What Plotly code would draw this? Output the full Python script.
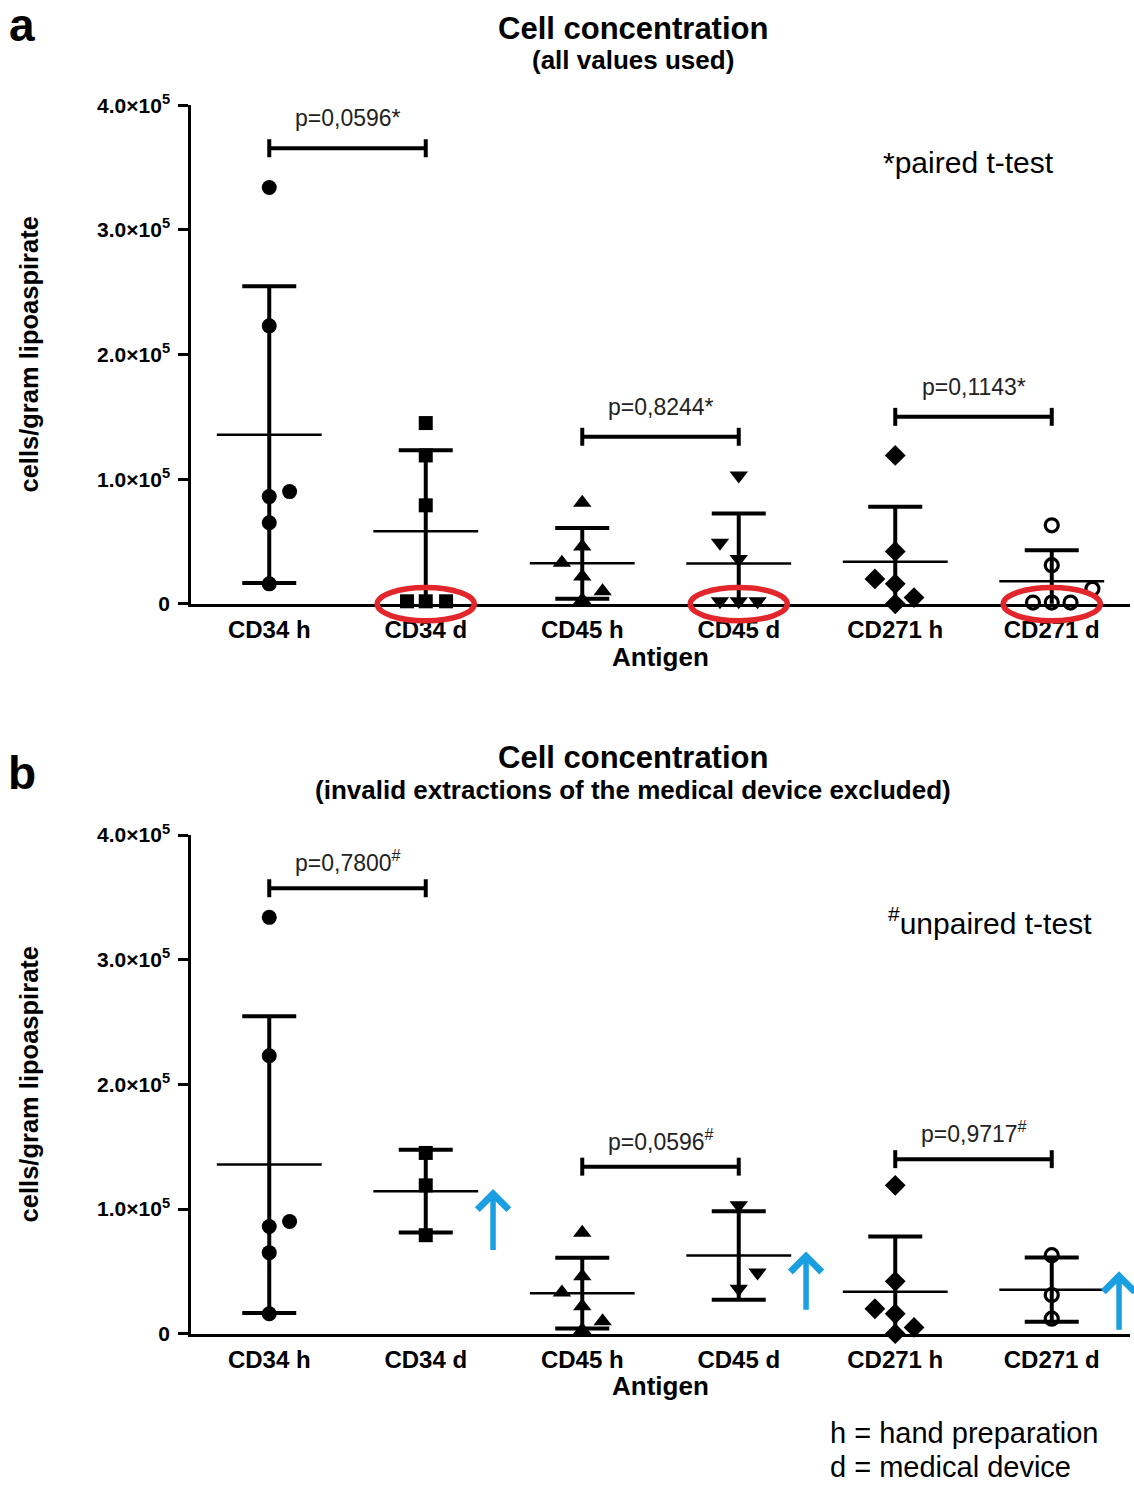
import numpy as np
import plotly.graph_objects as go

# ---------------- data (cells / gram lipoaspirate, in units of 1e5) ----------------
CATEGORIES = ["CD34 h", "CD34 d", "CD45 h", "CD45 d", "CD271 h", "CD271 d"]
UNIT = 1e5

CD34_H = [3.34, 2.23, 0.90, 0.86, 0.65, 0.16]
CD34_D_VALID = [1.45, 1.19, 0.79]
CD34_D_INVALID = [0.02, 0.02, 0.02]
CD45_H = [0.81, 0.46, 0.33, 0.22, 0.10, 0.03]
CD45_D_VALID = [1.03, 0.49, 0.36]
CD45_D_INVALID = [0.02, 0.02, 0.02]
CD271_H = [1.19, 0.42, 0.20, 0.16, 0.05, 0.00]
CD271_D_VALID = [0.63, 0.31, 0.12]
CD271_D_INVALID = [0.01, 0.01, 0.01]

P_PAIRED = ["p=0,0596*", "p=0,8244*", "p=0,1143*"]
P_UNPAIRED = ["p=0,7800<sup>#</sup>", "p=0,0596<sup>#</sup>", "p=0,9717<sup>#</sup>"]

Y_TICK_VALUES = [0, 1.0, 2.0, 3.0, 4.0]
Y_TICK_TEXT = ["0", "1.0×10<sup>5</sup>", "2.0×10<sup>5</sup>", "3.0×10<sup>5</sup>", "4.0×10<sup>5</sup>"]

PANEL_A = [CD34_H, CD34_D_VALID + CD34_D_INVALID, CD45_H, CD45_D_VALID + CD45_D_INVALID,
           CD271_H, CD271_D_VALID + CD271_D_INVALID]
PANEL_B = [CD34_H, CD34_D_VALID, CD45_H, CD45_D_VALID, CD271_H, CD271_D_VALID]

# ---------------- styling / placement ----------------
W, H = 1134, 1486
FONT = "Liberation Sans, Arial, sans-serif"
SYMBOLS = ["circle", "square", "triangle-up", "triangle-down", "diamond", "circle-open"]
SIZES = [15, 14, 16, 16, 16, 13]

JITTER_A = [[0, 0, 0.13, 0, 0, 0],
            [0, 0, 0, -0.12, 0, 0.13],
            [0, 0, -0.13, 0, 0.13, 0],
            [0, -0.12, 0, -0.12, 0, 0.12],
            [0, 0, -0.13, 0, 0.12, 0],
            [0, 0, 0.26, -0.12, 0, 0.12]]
JITTER_B = [[0, 0, 0.13, 0, 0, 0],
            [0, 0, 0],
            [0, 0, -0.13, 0, 0.13, 0],
            [0, 0.12, 0],
            [0, 0, -0.13, 0, 0.12, 0],
            [0, 0, 0]]

BRACKET_PAIRS = [(0, 1), (2, 3), (4, 5)]
BRACKET_Y_A = [3.655, 1.34, 1.50]
BRACKET_Y_B = [3.574, 1.34, 1.40]
ELLIPSE_CATS = [1, 3, 5]
ARROWS_B = [(1, 0.66, 1.16), (3, 0.18, 0.66), (5, 0.02, 0.50)]  # (cat, tail, tip)

X_RANGE = [-0.5, 5.5]
Y_RANGE = [0, 4.0 * UNIT]

# screen-space calibration of the vertical placement
S_Y, O_Y = 0.982, 13.9


def px(x):
    return x / W


def py(y):
    return 1 - ((y - O_Y) / S_Y) / H


X_DOM = [px(191), px(1130)]
Y_DOM_A = [py(603), py(105)]
Y_DOM_B = [py(1332), py(834)]

fig = go.Figure()


def add_panel(values, jitter, xa, ya, brackets_y, ptexts, pshift, ellipses, arrows):
    axis_x = "x" if xa == "" else "x" + xa
    axis_y = "y" if ya == "" else "y" + ya
    for i, vals in enumerate(values):
        arr = np.array(vals) * UNIT
        mean = arr.mean()
        sd = arr.std(ddof=1)
        # mean line + SD error bar
        fig.add_trace(go.Scatter(
            x=[i], y=[mean], mode="markers", xaxis=axis_x, yaxis=axis_y,
            marker=dict(size=1, color="rgba(0,0,0,0)"),
            error_y=dict(type="data", array=[sd], visible=True, color="black", thickness=4, width=27),
            error_x=dict(type="constant", value=0.335, visible=True, color="black", thickness=2.5, width=0),
            showlegend=False, hoverinfo="skip"))
        xs = [i + j for j in jitter[i]]
        sym = SYMBOLS[i]
        mk = dict(symbol=sym, size=SIZES[i], color="black")
        if sym == "circle-open":
            mk["line"] = dict(width=3.2, color="black")
        else:
            mk["line"] = dict(width=0)
        fig.add_trace(go.Scatter(
            x=xs, y=list(arr), mode="markers", xaxis=axis_x, yaxis=axis_y,
            marker=mk, cliponaxis=False, showlegend=False))
    # brackets
    tick = 0.072 * UNIT
    for (a, b), hy, txt in zip(BRACKET_PAIRS, brackets_y, ptexts):
        hyv = hy * UNIT
        fig.add_trace(go.Scatter(
            x=[a, a, None, a, b, None, b, b],
            y=[hyv - tick, hyv + tick, None, hyv, hyv, None, hyv - tick, hyv + tick],
            mode="lines", line=dict(color="black", width=4), xaxis=axis_x, yaxis=axis_y,
            showlegend=False, hoverinfo="skip", cliponaxis=False))
        fig.add_annotation(x=(a + b) / 2, y=hyv, xref=axis_x, yref=axis_y, text=txt,
                           showarrow=False, yanchor="bottom", yshift=pshift,
                           font=dict(family=FONT, size=23, color="#222"))
    # red ellipses (in domain coordinates so they are not clipped)
    for c in ellipses:
        x0 = (c - 0.31 - X_RANGE[0]) / (X_RANGE[1] - X_RANGE[0])
        x1 = (c + 0.31 - X_RANGE[0]) / (X_RANGE[1] - X_RANGE[0])
        y0 = -0.135 * UNIT / Y_RANGE[1]
        y1 = 0.13 * UNIT / Y_RANGE[1]
        fig.add_shape(type="circle", xref=axis_x + " domain", yref=axis_y + " domain",
                      x0=x0, x1=x1, y0=y0, y1=y1, line=dict(color="#e3262b", width=5.5), layer="above")
    for c, tail, tip in arrows:
        fig.add_annotation(x=c + 0.43, y=tip * UNIT, ax=c + 0.43, ay=tail * UNIT,
                           xref=axis_x, yref=axis_y, axref=axis_x, ayref=axis_y,
                           showarrow=True, arrowhead=4, arrowsize=1.1, arrowwidth=5.5,
                           arrowcolor="#1a9fe3", text="")


add_panel(PANEL_A, JITTER_A, "", "", BRACKET_Y_A, P_PAIRED, 15, ELLIPSE_CATS, [])
add_panel(PANEL_B, JITTER_B, "2", "2", BRACKET_Y_B, P_UNPAIRED, 10, [], ARROWS_B)

xaxis_common = dict(range=X_RANGE, domain=X_DOM, tickvals=list(range(6)),
                    ticktext=["<b>%s</b>" % c for c in CATEGORIES], showline=True, linewidth=2.5,
                    linecolor="black", ticks="", showgrid=False, zeroline=False,
                    tickfont=dict(family=FONT, size=24, color="black"), ticklabelstandoff=3,
                    fixedrange=True)
yaxis_common = dict(range=Y_RANGE, tickvals=[v * UNIT for v in Y_TICK_VALUES],
                    ticktext=["<b>%s</b>" % t for t in Y_TICK_TEXT], showline=True, linewidth=2.5,
                    linecolor="black", ticks="outside", ticklen=10, tickwidth=2.5, tickcolor="black",
                    showgrid=False, zeroline=False, tickfont=dict(family=FONT, size=21, color="black"),
                    ticklabelstandoff=4)

fig.update_layout(
    width=W, height=H, margin=dict(l=0, r=0, t=0, b=0),
    paper_bgcolor="white", plot_bgcolor="white", showlegend=False,
    xaxis=dict(**xaxis_common, anchor="y"),
    yaxis=dict(**yaxis_common, domain=Y_DOM_A, anchor="x"),
    xaxis2=dict(**xaxis_common, anchor="y2"),
    yaxis2=dict(**yaxis_common, domain=Y_DOM_B, anchor="x2"),
)

texts = [
    ("a", 22, 25, 46, True, "center", 0),
    ("b", 22, 772, 46, True, "center", 0),
    ("Cell concentration", 633, 28, 31, True, "center", 0),
    ("(all values used)", 633, 60, 26, True, "center", 0),
    ("Cell concentration", 633, 757, 31, True, "center", 0),
    ("(invalid extractions of the medical device excluded)", 633, 789, 26, True, "center", 0),
    ("Antigen", 660, 656, 26, True, "center", 0),
    ("Antigen", 660, 1384, 26, True, "center", 0),
    ("cells/gram lipoaspirate", 29, 354, 25.5, True, "center", -90),
    ("cells/gram lipoaspirate", 29, 1083, 25.5, True, "center", -90),
    ("*paired t-test", 968, 162, 30, False, "center", 0),
    ("<sup>#</sup>unpaired t-test", 990, 920, 30, False, "center", 0),
    ("h = hand preparation", 828, 1431, 29, False, "left", 0),
    ("d = medical device", 828, 1465, 29, False, "left", 0),
]
for t, x, y, s, bold, anchor, ang in texts:
    fig.add_annotation(x=px(x), y=py(y), xref="paper", yref="paper",
                       text=("<b>%s</b>" % t) if bold else t, showarrow=False,
                       xanchor=anchor, yanchor="middle", textangle=ang,
                       font=dict(family=FONT, size=s, color="black"))

fig.write_html("out.html")
